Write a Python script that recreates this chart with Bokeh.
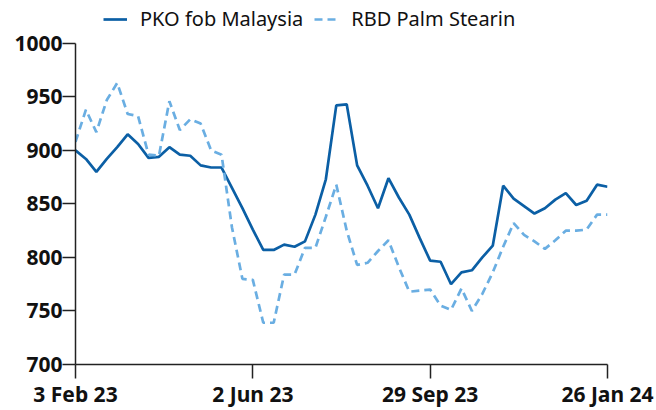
from bokeh.plotting import figure
from bokeh.models import Range1d, FixedTicker, Legend, LegendItem, ColumnDataSource
from bokeh.embed import file_html
from bokeh.resources import INLINE

weeks = list(range(52))
pko = [900, 892, 880, 892, 903, 915, 906, 893, 894, 903, 896, 895, 886, 884, 884,
       865, 846, 826, 807, 807, 812, 810, 815, 840, 873, 942, 943, 886, 867, 846,
       874, 856, 840, 818, 797, 796, 775, 786, 788, 800, 811, 867, 855, 848, 841,
       846, 854, 860, 849, 853, 868, 866]
rbd = [908, 938, 917, 947, 963, 934, 932, 896, 895, 946, 919, 929, 925, 900, 896,
       828, 780, 779, 739, 739, 784, 784, 809, 809, 838, 868, 825, 793, 795, 806,
       816, 791, 768, 769, 770, 755, 751, 771, 750, 766, 786, 810, 832, 821, 815,
       808, 816, 825, 825, 826, 840, 840]
x_tick_positions = [0, 17, 34, 51]
x_tick_labels = ["3 Feb 23", "2 Jun 23", "29 Sep 23", "26 Jan 24"]
y_ticks = [700, 750, 800, 850, 900, 950, 1000]
series_names = ["PKO fob Malaysia", "RBD Palm Stearin"]

src = ColumnDataSource(dict(x=weeks, pko=pko, rbd=rbd))

# frame spans the full top of the canvas so the legend (clipped to the frame)
# can sit above the 1000 line; the y axis line itself stops at 1000
p = figure(width=656, height=410, output_backend="svg", toolbar_location=None,
           x_range=Range1d(0, 51), y_range=Range1d(700, 1040),
           min_border_left=75, min_border_right=49, min_border_top=0,
           min_border_bottom=45)
p.outline_line_color = None
p.xgrid.grid_line_color = None
p.ygrid.grid_line_color = None
p.background_fill_color = "white"

r1 = p.line("x", "pko", source=src, line_color="#0b5fa5", line_width=2.7)
r2 = p.line("x", "rbd", source=src, line_color="#6aaee2", line_width=2.7,
            line_dash="8 5")

axis_color = "#222222"
for ax in (p.xaxis[0], p.yaxis[0]):
    ax.axis_line_color = axis_color
    ax.axis_line_width = 1.5
    ax.major_tick_line_color = axis_color
    ax.major_tick_line_width = 1.5
    ax.minor_tick_line_color = None
    ax.major_tick_in = 0
    ax.major_label_text_font = "Noto Sans"
    ax.major_label_text_font_style = "bold"
    ax.major_label_text_font_size = "21px"
    ax.major_label_text_color = "#111111"

p.xaxis.ticker = FixedTicker(ticks=x_tick_positions)
p.xaxis.major_label_overrides = dict(zip(x_tick_positions, x_tick_labels))
p.xaxis.major_tick_out = 14
p.xaxis.major_label_standoff = 1
p.yaxis.ticker = FixedTicker(ticks=y_ticks)
p.yaxis.bounds = (700, 1000)
p.yaxis.major_tick_out = 13
p.yaxis.major_label_standoff = 0

legend = Legend(items=[LegendItem(label=series_names[0], renderers=[r1]),
                       LegendItem(label=series_names[1], renderers=[r2])],
                location=(28, 332), orientation="horizontal",
                border_line_color=None, background_fill_alpha=0,
                padding=0, margin=0, spacing=11, label_standoff=13,
                glyph_width=24, glyph_height=20,
                label_text_font="Noto Sans", label_text_font_size="20px",
                label_text_color="#111111")
p.add_layout(legend, "center")

open("out.html", "w").write(file_html(p, INLINE))
